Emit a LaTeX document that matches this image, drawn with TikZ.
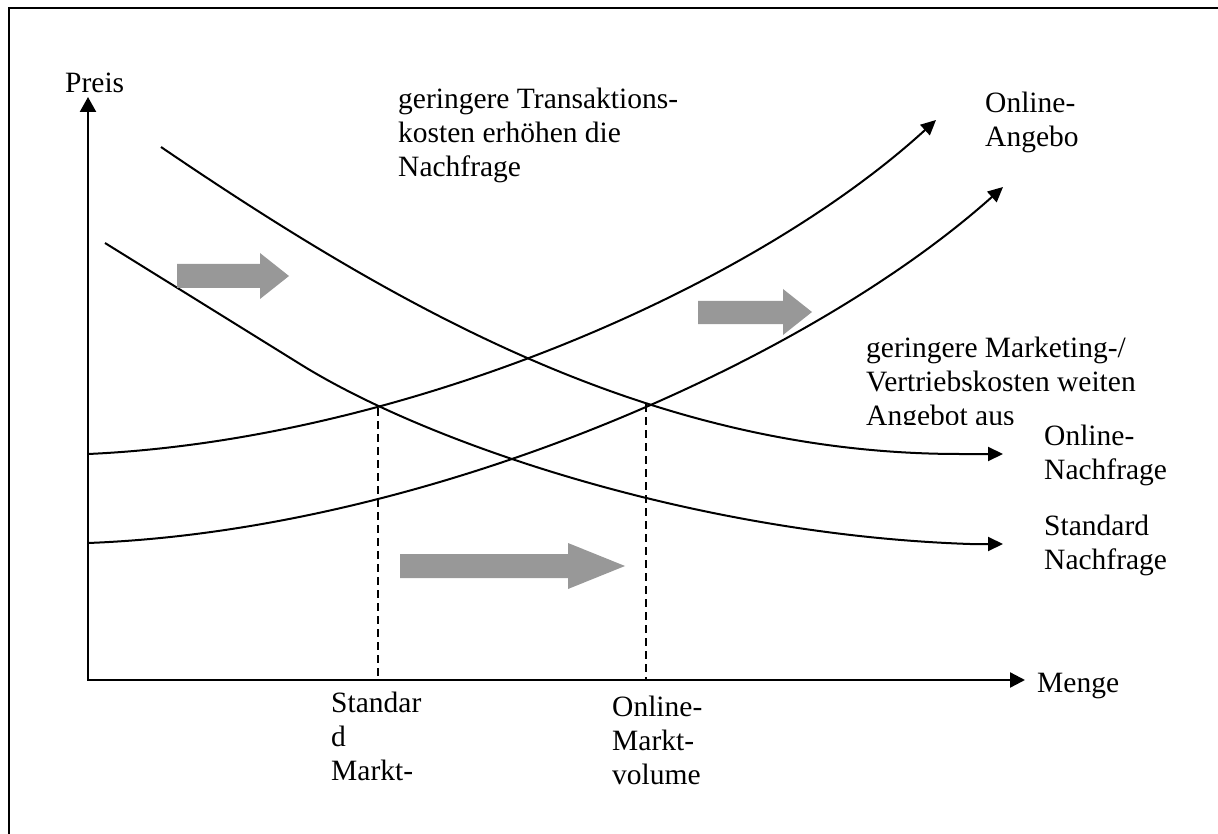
\documentclass[tikz,border=0pt]{standalone}
\usepackage{fontspec}
\setmainfont{Liberation Serif}
\usetikzlibrary{arrows.meta}
\definecolor{shiftgray}{RGB}{152,152,152}
\begin{document}
\begin{tikzpicture}[x=1pt,y=-1pt,
  lbl/.style={anchor=base west, inner sep=0pt, align=left,
              font=\fontsize{29.5}{34}\selectfont},
  axes/.style={line width=2.3pt, {Triangle[length=15pt,width=16pt]}-{Triangle[length=15pt,width=15pt]}},
  curve/.style={line width=2pt, -{Triangle[length=15pt,width=14pt]}},
  guide/.style={line width=1.6pt, dash pattern=on 8pt off 5pt},
  shiftarrow/.style={fill=shiftgray, draw=none}]
\useasboundingbox (0,0) rectangle (1218,834);

% frame
\draw[line width=2pt] (1218,8) -- (9,8) -- (9,834);

% axes
\coordinate (ytip) at (88,97);
\coordinate (O) at (88,680);
\coordinate (xtip) at (1025,680);
\draw[axes] (ytip) -- (O) -- (xtip);

% equilibrium quantities
\coordinate (eqS) at (378,408);
\coordinate (eqO) at (646,404);
\draw[guide] (eqS) -- (eqS |- O);
\draw[guide] (eqO) -- (eqO |- O);

% online demand
\coordinate (odA) at (161,147);
\coordinate (odB) at (960,454);
\coordinate (odE) at (1003,454);
\draw[curve] (odA) .. controls (411,317) and (660,454) .. (odB) -- (odE);
% standard demand
\coordinate (sdA) at (105,243);
\coordinate (sdB) at (300,364);
\coordinate (sdC) at (970,544);
\coordinate (sdE) at (1003,544);
\draw[curve] (sdA) -- (sdB) .. controls (430,445) and (700,535) .. (sdC) -- (sdE);
% standard supply
\coordinate (ssA) at (88,454);
\coordinate (ssE) at (936,120);
\draw[curve] (ssA) .. controls (400,440) and (750,290) .. (ssE);
% online supply
\coordinate (osA) at (88,543);
\coordinate (osE) at (1003,187);
\draw[curve] (osA) .. controls (430,530) and (810,360) .. (osE);

% shift arrows
\fill[shiftarrow] (177,264) -- (260,264) -- (260,253) -- (289,276) -- (260,299) -- (260,288) -- (177,288) -- cycle;
\fill[shiftarrow] (698,301) -- (783,301) -- (783,289) -- (812,312) -- (783,335) -- (783,324) -- (698,324) -- cycle;
\fill[shiftarrow] (400,554) -- (568,554) -- (568,543) -- (625,566) -- (568,589) -- (568,578) -- (400,578) -- cycle;

% labels (a multi-line label sits on the baseline of its last line)
\node[lbl] (preis) at (65,93) {Preis};
\node[lbl] (menge) at (1037,692) {Menge};
\node[lbl] (trans) at (398,177) {geringere Transaktions-\\kosten erhöhen die\\Nachfrage};
\node[lbl] (oang) at (985,147) {Online-\\Angebo};
\begin{scope}
  \clip (850,320) rectangle (1218,424);
  \node[lbl] (mark) at (866,425) {geringere Marketing-/\\Vertriebskosten weiten\\Angebot aus};
\end{scope}
\node[lbl] (onach) at (1044,479) {Online-\\Nachfrage};
\node[lbl] (snach) at (1044,569) {Standard\\Nachfrage};
\node[lbl] (svol) at (331,780) {Standar\\d\\Markt-};
\node[lbl] (ovol) at (612,784) {Online-\\Markt-\\volume};
\end{tikzpicture}
\end{document}
